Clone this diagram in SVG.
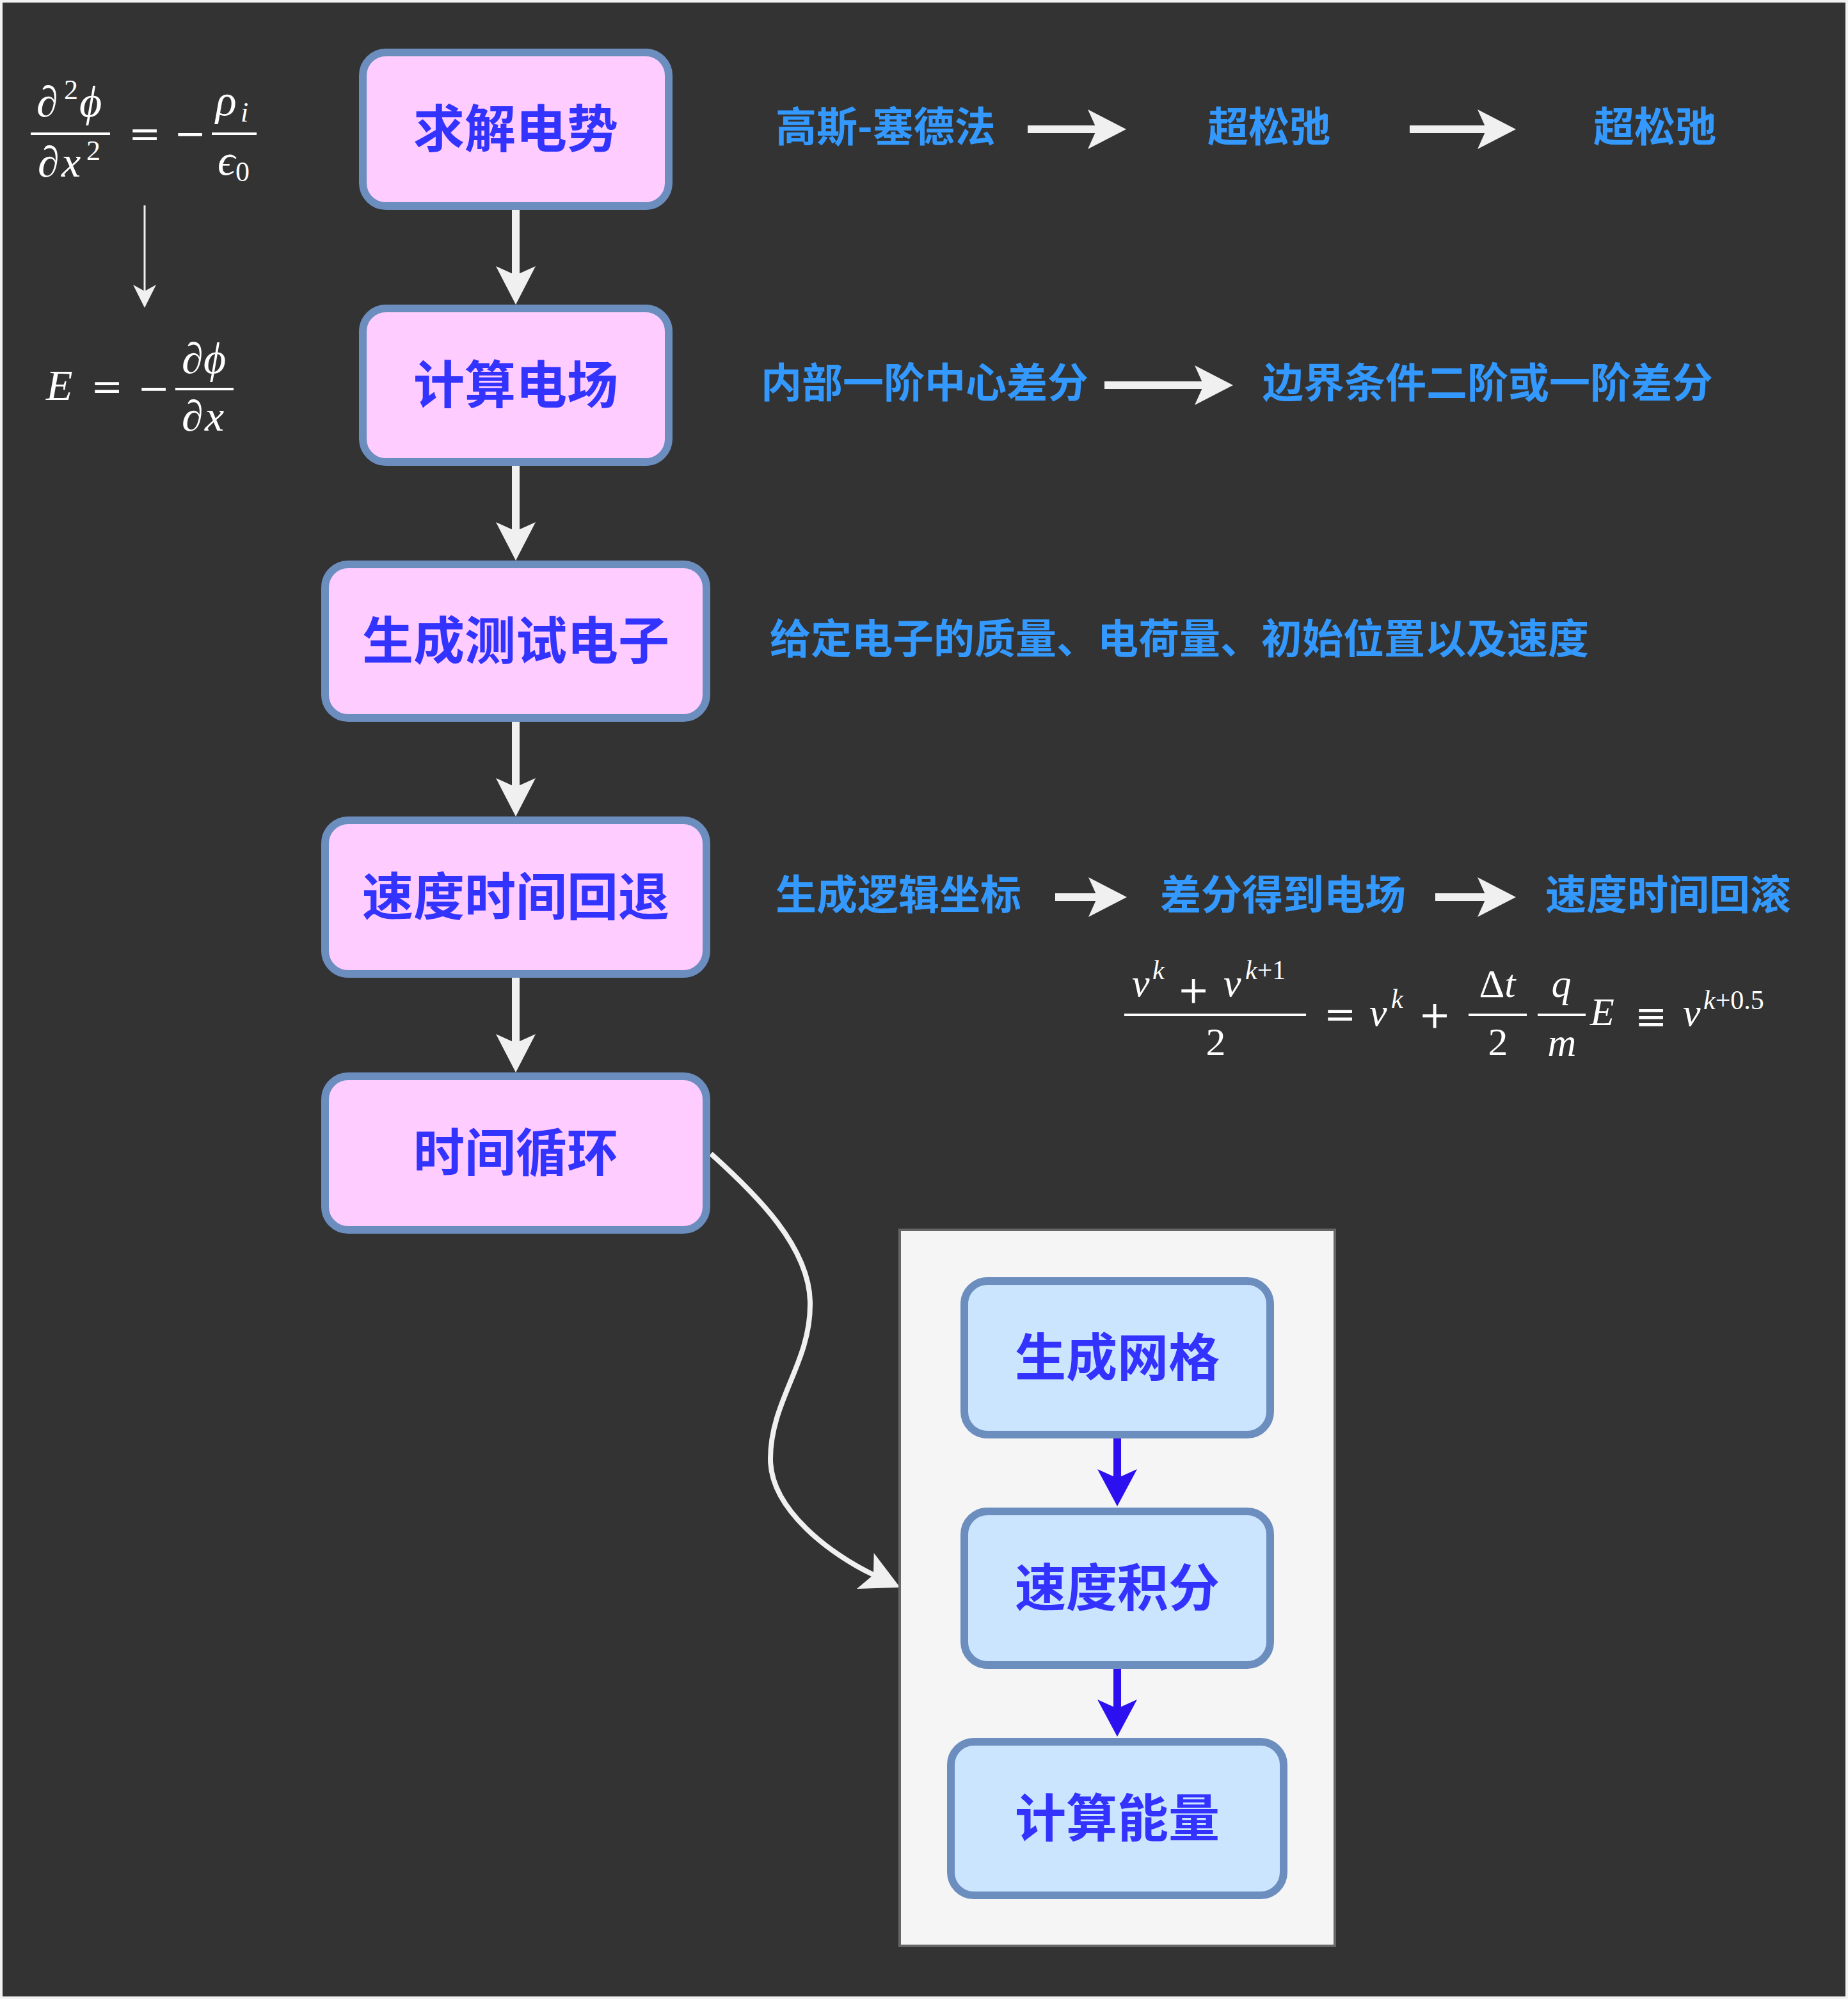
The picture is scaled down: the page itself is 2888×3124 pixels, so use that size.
<svg xmlns="http://www.w3.org/2000/svg" width="2888" height="3124" viewBox="0 0 2888 3124">
<style>
.node rect{fill:#ffccff;stroke:#6c8ebf;stroke-width:12}
.inner rect{fill:#cce5ff;stroke:#6c8ebf;stroke-width:12}
.nt{font-family:"Noto Sans CJK SC",sans-serif;font-weight:bold;font-size:80px;fill:#3333ff;text-anchor:middle;dominant-baseline:central}
.lbl{font-family:"Noto Sans CJK SC",sans-serif;font-weight:bold;font-size:64px;fill:#3399ff;dominant-baseline:central}
.m{font-family:"Liberation Serif","DejaVu Serif",serif;fill:#ffffff;font-size:68px}
.m3{font-family:"Liberation Serif","DejaVu Serif",serif;fill:#ffffff;font-size:62px}
.op{font-family:"DejaVu Serif",serif;font-size:60px}
.i{font-style:italic}
.s{font-size:44px}
.s3{font-size:42px}
.bar{fill:#ffffff}
.w{fill:none;stroke:#f0f0f0;stroke-width:12}
.b{fill:none;stroke:#2c10f0;stroke-width:12}
</style>
<defs>
<marker id="aw" markerUnits="userSpaceOnUse" markerWidth="70" markerHeight="70" viewBox="0 -35 70 70" refX="14" refY="0" orient="auto" overflow="visible">
<path d="M60,0 L0,-31 L14,0 L0,31 Z" fill="#f0f0f0"/>
</marker>
<marker id="ab" markerUnits="userSpaceOnUse" markerWidth="70" markerHeight="70" viewBox="0 -35 70 70" refX="14" refY="0" orient="auto" overflow="visible">
<path d="M58,0 L0,-31 L14,0 L0,31 Z" fill="#2c10f0"/>
</marker>
<marker id="at" markerUnits="userSpaceOnUse" markerWidth="40" markerHeight="40" viewBox="0 -20 40 40" refX="10" refY="0" orient="auto" overflow="visible">
<path d="M36,0 L0,-18 L10,0 L0,18 Z" fill="#f0f0f0"/>
</marker>
</defs>
<rect x="0" y="0" width="2888" height="3124" fill="#f2f2f2"/>
<rect x="4" y="4" width="2880" height="3116" fill="#333333"/>

<g id="connectors">
<path class="w" d="M806,328 V430" marker-end="url(#aw)"/>
<path class="w" d="M806,728 V830" marker-end="url(#aw)"/>
<path class="w" d="M806,1128 V1230" marker-end="url(#aw)"/>
<path class="w" d="M806,1528 V1630" marker-end="url(#aw)"/>
<path class="w" d="M1606,202 H1714" marker-end="url(#aw)"/>
<path class="w" d="M2203,202 H2323" marker-end="url(#aw)"/>
<path class="w" d="M1726,602 H1881" marker-end="url(#aw)"/>
<path class="w" d="M1649,1402 H1715" marker-end="url(#aw)"/>
<path class="w" d="M2243,1402 H2323" marker-end="url(#aw)"/>
<path fill="none" stroke="#f0f0f0" stroke-width="8" d="M1111,1803 C1180,1865 1268,1950 1266,2040 C1266,2130 1204,2190 1204,2280 C1204,2360 1300,2430 1365,2461" marker-end="url(#aw)"/>
<path fill="none" stroke="#f0f0f0" stroke-width="3" d="M226,321 V455" marker-end="url(#at)"/>
</g>

<g id="container">
<rect x="1406" y="1922" width="680" height="1119" fill="#f5f5f5" stroke="#666666" stroke-width="4"/>
</g>

<g id="inner-connectors">
<path class="b" d="M1746,2248 V2310" marker-end="url(#ab)"/>
<path class="b" d="M1746,2608 V2670" marker-end="url(#ab)"/>
</g>

<g id="n1" class="node"><rect x="567" y="82" width="478" height="240" rx="36"/><text class="nt" x="806" y="195">求解电势</text></g>
<g id="n2" class="node"><rect x="567" y="482" width="478" height="240" rx="36"/><text class="nt" x="806" y="595">计算电场</text></g>
<g id="n3" class="node"><rect x="508" y="882" width="596" height="240" rx="36"/><text class="nt" x="806" y="995">生成测试电子</text></g>
<g id="n4" class="node"><rect x="508" y="1282" width="596" height="240" rx="36"/><text class="nt" x="806" y="1395">速度时间回退</text></g>
<g id="n5" class="node"><rect x="508" y="1682" width="596" height="240" rx="36"/><text class="nt" x="806" y="1795">时间循环</text></g>

<g id="n6" class="inner"><rect x="1507" y="2002" width="478" height="240" rx="36"/><text class="nt" x="1746" y="2115">生成网格</text></g>
<g id="n7" class="inner"><rect x="1507" y="2362" width="478" height="240" rx="36"/><text class="nt" x="1746" y="2475">速度积分</text></g>
<g id="n8" class="inner"><rect x="1486" y="2722" width="520" height="240" rx="36"/><text class="nt" x="1746" y="2835">计算能量</text></g>

<g id="labels">
<text class="lbl" x="1212" y="193">高斯-塞德法</text>
<text class="lbl" x="1887" y="193">超松弛</text>
<text class="lbl" x="2490" y="193">超松弛</text>
<text class="lbl" x="1189" y="593">内部一阶中心差分</text>
<text class="lbl" x="1973" y="593">边界条件二阶或一阶差分</text>
<text class="lbl" x="1203" y="993">给定电子的质量、电荷量、初始位置以及速度</text>
<text class="lbl" x="1212" y="1393">生成逻辑坐标</text>
<text class="lbl" x="1813" y="1393">差分得到电场</text>
<text class="lbl" x="2415" y="1393">速度时间回滚</text>
</g>

<g id="formula1" class="m">
<text x="57" y="182">∂</text>
<text class="s" x="100" y="155">2</text>
<text class="i" x="124" y="182">ϕ</text>
<rect class="bar" x="48" y="207" width="124" height="4"/>
<text x="59" y="276">∂</text>
<text class="i" x="96" y="276">x</text>
<text class="s" x="135" y="250">2</text>
<text class="op" x="201" y="229">=</text>
<text class="op" x="272" y="229">−</text>
<text class="i" x="337" y="180">ρ</text>
<text class="i s" x="376" y="190">i</text>
<rect class="bar" x="331" y="207" width="70" height="4"/>
<text class="i" x="340" y="273">ϵ</text>
<text class="s" x="368" y="283">0</text>
</g>

<g id="formula2" class="m">
<text class="i" x="72" y="625">E</text>
<text class="op" x="142" y="624">=</text>
<text class="op" x="215" y="627">−</text>
<rect class="bar" x="274" y="606" width="91" height="4"/>
<text x="284" y="583">∂</text>
<text class="i" x="318" y="583">ϕ</text>
<text x="284" y="673">∂</text>
<text class="i" x="320" y="673">x</text>
</g>

<g id="formula3" class="m3">
<text class="i" x="1769" y="1557">v</text>
<text class="i s3" x="1801" y="1530">k</text>
<text class="op" x="1840" y="1567">+</text>
<text class="i" x="1912" y="1557">v</text>
<text class="s3" x="1946" y="1530"><tspan class="i">k</tspan>+1</text>
<rect class="bar" x="1757" y="1584" width="284" height="4"/>
<text x="1900" y="1649" text-anchor="middle">2</text>
<text class="op" x="2069" y="1605">=</text>
<text class="i" x="2140" y="1603">v</text>
<text class="i s3" x="2174" y="1575">k</text>
<text class="op" x="2217" y="1606">+</text>
<text x="2340" y="1558" text-anchor="middle">Δ<tspan class="i">t</tspan></text>
<rect class="bar" x="2295" y="1584" width="91" height="4"/>
<text x="2341" y="1649" text-anchor="middle">2</text>
<text class="i" x="2440" y="1558" text-anchor="middle">q</text>
<rect class="bar" x="2403" y="1584" width="75" height="4"/>
<text class="i" x="2441" y="1650" text-anchor="middle">m</text>
<text class="i" x="2485" y="1602">E</text>
<text class="op" x="2555" y="1609">≡</text>
<text class="i" x="2630" y="1603">v</text>
<text class="s3" x="2662" y="1577"><tspan class="i">k</tspan>+0.5</text>
</g>
</svg>
